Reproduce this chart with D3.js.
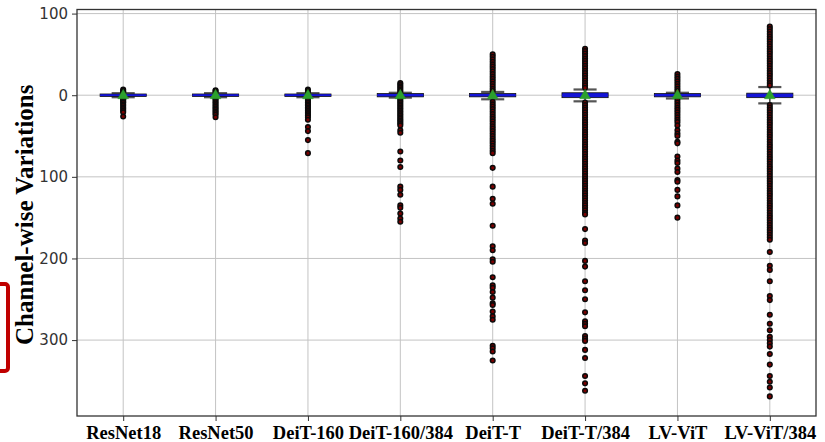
<!DOCTYPE html>
<html>
<head>
<meta charset="utf-8">
<script src="https://cdn.jsdelivr.net/npm/d3@7/dist/d3.min.js"></script>
<style>
  html, body { margin: 0; padding: 0; background: #fff; }
  svg { display: block; }
</style>
</head>
<body>
<svg id="chart" width="825" height="442"></svg>
<script>
// Model names along the x axis
const categories = ["ResNet18", "ResNet50", "DeiT-160", "DeiT-160/384", "DeiT-T", "DeiT-T/384", "LV-ViT", "LV-ViT/384"];

// Box statistics per model
const boxQ1     = [-1.5, -1.5, -1.5, -2, -2, -3, -2, -3];
const boxQ3     = [1.5, 1.5, 1.5, 2, 2, 3, 2, 2.5];
const medians   = [0, 0, 0, 0, 0, 0, 0, 0];
const whiskerLo = [-2.5, -2.5, -2.5, -3, -5, -7.5, -4, -10];
const whiskerHi = [2.5, 2.5, 2.5, 3, 4, 7, 3, 10];
const means     = [-0.5, -0.5, -0.5, -0.5, -0.5, -0.5, -0.5, -0.5];

// Outlier channels per model
const fliersResNet18 = [7, 5, 4, 3, -3, -4, -5, -6, -8, -9, -11, -13, -15, -17, -19, -21, -26];
const fliersResNet50 = [6, 5, 3, -3, -4, -6, -8, -10, -12, -14, -16, -18, -20, -22, -24, -27];
const fliersDeiT160 = [7, 5, 3, -3, -5, -7, -9, -11, -13, -15, -17, -19, -21, -23, -25, -27, -30, -39, -44, -55, -71];
const fliersDeiT160_384 = [15, 13, 11, 9, 7, 5, 3, -3, -5, -7, -9, -11, -13, -15, -17, -19, -21, -23, -25, -27, -29, -31,
  -33, -35, -37, -43, -46, -69, -80, -88, -112, -116, -122, -135, -138, -145, -151, -155];
const fliersDeiTT = [50, 47, 44, 41, 38, 35, 32, 29, 26, 23, 20, 17, 14, 11, 8, 5, -8, -11, -14, -17, -20, -23, -26,
  -29, -32, -35, -38, -41, -44, -47, -50, -53, -56, -59, -62, -65, -68, -71, -89, -112, -127, -133, -160, -185, -190,
  -201, -204, -223, -233, -236, -241, -248, -255, -257, -265, -271, -275, -307, -310, -314, -325];
const fliersDeiTT384 = [57, 54, 51, 48, 45, 42, 39, 36, 33, 30, 27, 24, 21, 18, 15, 12, 9, -9, -12, -15, -18, -21,
  -24, -27, -30, -33, -36, -39, -42, -45, -48, -51, -54, -57, -60, -63, -66, -69, -72, -75, -78, -81, -84, -87, -90,
  -93, -96, -99, -102, -105, -108, -111, -114, -117, -120, -123, -126, -129, -132, -135, -138, -141, -144, -146,
  -164, -178, -181, -203, -210, -228, -239, -250, -266, -277, -280, -283, -295, -298, -301, -312, -322, -344, -353, -362];
const fliersLVViT = [26, 23, 20, 17, 14, 11, 8, 5, -6, -9, -12, -15, -18, -21, -24, -27, -30, -33, -37, -43, -47, -50,
  -57, -59, -75, -80, -83, -90, -94, -104, -106, -116, -124, -135, -150];
const fliersLVViT384 = [84, 81, 78, 75, 72, 69, 66, 63, 60, 57, 54, 51, 48, 45, 42, 39, 36, 33, 30, 27, 24, 21, 18,
  15, 12, -12, -15, -18, -21, -24, -27, -30, -33, -36, -39, -42, -45, -48, -51, -54, -57, -60, -63, -66, -69, -72,
  -75, -78, -81, -84, -87, -90, -93, -96, -99, -102, -105, -108, -111, -114, -117, -120, -123, -126, -129, -132,
  -135, -138, -141, -144, -147, -150, -153, -156, -159, -162, -165, -168, -171, -174, -177, -192, -209, -214, -228,
  -246, -251, -269, -280, -288, -296, -300, -304, -308, -317, -330, -344, -351, -358, -369];
const fliers = [fliersResNet18, fliersResNet50, fliersDeiT160, fliersDeiT160_384,
                fliersDeiTT, fliersDeiTT384, fliersLVViT, fliersLVViT384];

// Y tick values
const yTicks = [100, 0, -100, -200, -300];

const svg = d3.select("#chart");
const plot = { left: 77, right: 816, top: 9.5, bottom: 416 };

const x = d3.scalePoint().domain(categories).range([plot.left, plot.right]).padding(0.5);
const y = d3.scaleLinear().domain([-393, 105]).range([plot.bottom, plot.top]);
const step = x.step();
const boxW = step * 0.5;
const capW = boxW * 0.5;

// Grid
const grid = svg.append("g").attr("stroke", "#b0b0b0").attr("stroke-width", 1).attr("opacity", 0.75);
grid.selectAll("line.gx").data(categories).join("line")
  .attr("x1", d => x(d)).attr("x2", d => x(d))
  .attr("y1", plot.top).attr("y2", plot.bottom);
grid.selectAll("line.gy").data(yTicks).join("line")
  .attr("x1", plot.left).attr("x2", plot.right)
  .attr("y1", d => y(d)).attr("y2", d => y(d));

// Axes
const yAxis = d3.axisLeft(y).tickValues(yTicks).tickSize(5).tickPadding(4).tickFormat(d => String(Math.abs(d)));
const gy = svg.append("g").attr("transform", `translate(${plot.left},0)`).call(yAxis);
gy.select(".domain").remove();
gy.selectAll(".tick line").attr("stroke", "#333").attr("stroke-width", 1);
gy.selectAll(".tick text").attr("font-family", "DejaVu Sans").attr("font-size", 15).attr("fill", "#333");

const xAxis = d3.axisBottom(x).tickSize(5).tickPadding(4);
const gx = svg.append("g").attr("transform", `translate(0,${plot.bottom})`).call(xAxis);
gx.select(".domain").remove();
gx.selectAll(".tick line").attr("stroke", "#333").attr("stroke-width", 1);
gx.selectAll(".tick text").attr("font-family", "Liberation Serif").attr("font-weight", "bold")
  .attr("font-size", 18.5).attr("fill", "#000").attr("dy", "0.74em");

// Boxes
const idx = d3.range(categories.length);
const boxes = svg.append("g");
idx.forEach(i => {
  const cx = x(categories[i]);
  const g = boxes.append("g");
  // whiskers
  g.append("line").attr("x1", cx).attr("x2", cx).attr("y1", y(boxQ3[i])).attr("y2", y(whiskerHi[i]))
    .attr("stroke", "#444").attr("stroke-width", 1.5);
  g.append("line").attr("x1", cx).attr("x2", cx).attr("y1", y(boxQ1[i])).attr("y2", y(whiskerLo[i]))
    .attr("stroke", "#444").attr("stroke-width", 1.5);
  // caps
  [whiskerHi[i], whiskerLo[i]].forEach(v => {
    g.append("line").attr("x1", cx - capW / 2).attr("x2", cx + capW / 2).attr("y1", y(v)).attr("y2", y(v))
      .attr("stroke", "#555").attr("stroke-width", 2.2);
  });
  // box
  g.append("rect").attr("x", cx - boxW / 2).attr("width", boxW)
    .attr("y", y(boxQ3[i])).attr("height", Math.max(2, y(boxQ1[i]) - y(boxQ3[i])))
    .attr("fill", "#1414d8").attr("stroke", "#111").attr("stroke-width", 0.8);
  // median
  g.append("line").attr("x1", cx - boxW / 2).attr("x2", cx + boxW / 2)
    .attr("y1", y(medians[i])).attr("y2", y(medians[i]))
    .attr("stroke", "#1414d8").attr("stroke-width", 1.5);
});

// Outliers
const pts = svg.append("g");
idx.forEach(i => {
  const cx = x(categories[i]);
  pts.selectAll(null).data(fliers[i]).join("circle")
    .attr("cx", cx).attr("cy", d => y(d)).attr("r", 2.3)
    .attr("fill", "#7a0000").attr("stroke", "#0a0a0a").attr("stroke-width", 1.5);
});

// Means
const tri = d3.symbol().type(d3.symbolTriangle).size(50);
svg.append("g").selectAll("path").data(idx).join("path")
  .attr("d", tri)
  .attr("transform", i => `translate(${x(categories[i])},${y(means[i])})`)
  .attr("fill", "#2ca02c").attr("stroke", "#2ca02c").attr("stroke-width", 0.5);

// Frame
svg.append("rect").attr("x", plot.left).attr("y", plot.top)
  .attr("width", plot.right - plot.left).attr("height", plot.bottom - plot.top)
  .attr("fill", "none").attr("stroke", "#333").attr("stroke-width", 1.3);

// Y axis title
svg.append("text")
  .attr("transform", `translate(33,${(plot.top + plot.bottom) / 2 + 2}) rotate(-90)`)
  .attr("text-anchor", "middle")
  .attr("font-family", "Liberation Serif").attr("font-weight", "bold").attr("font-size", 25)
  .text("Channel-wise Variations");

// Red marker bracket at the left edge
svg.append("rect").attr("x", -12).attr("y", 284).attr("width", 20).attr("height", 87).attr("rx", 3)
  .attr("fill", "none").attr("stroke", "#c00000").attr("stroke-width", 4);
</script>
</body>
</html>
